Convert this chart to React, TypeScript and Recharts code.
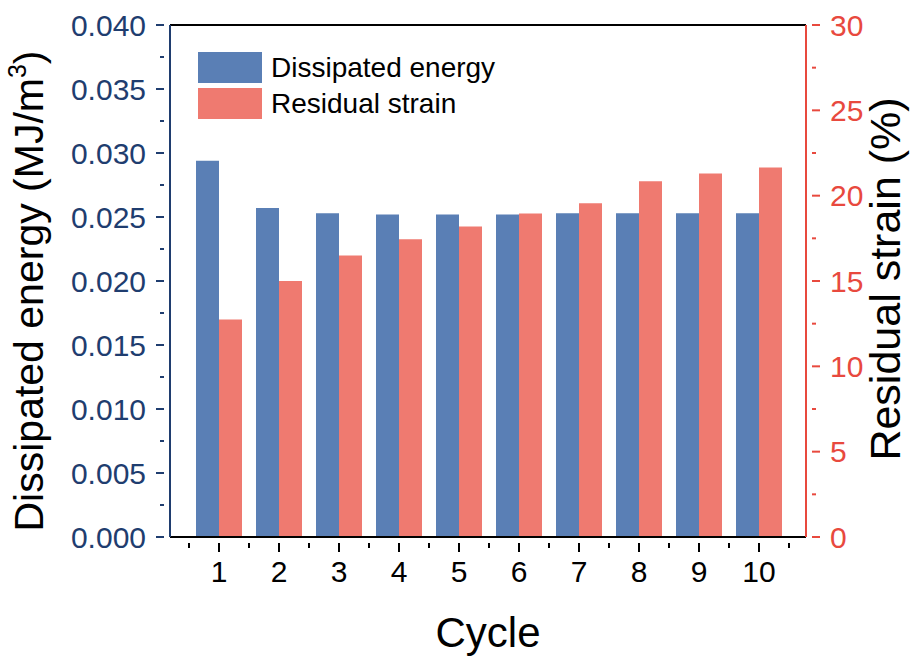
import { BarChart, Bar, XAxis, YAxis, ReferenceLine, Legend, Label } from 'recharts';

const cycles = ['1', '2', '3', '4', '5', '6', '7', '8', '9', '10'];
const dissipatedEnergy = [0.0294, 0.0257, 0.0253, 0.0252, 0.0252, 0.0252, 0.0253, 0.0253, 0.0253, 0.0253];
const residualStrain = [12.75, 15.0, 16.5, 17.45, 18.2, 18.95, 19.55, 20.85, 21.3, 21.65];

const energyTicks = [
  0, 0.0025, 0.005, 0.0075, 0.01, 0.0125, 0.015, 0.0175, 0.02,
  0.0225, 0.025, 0.0275, 0.03, 0.0325, 0.035, 0.0375, 0.04,
];
const strainTicks = [0, 2.5, 5, 7.5, 10, 12.5, 15, 17.5, 20, 22.5, 25, 27.5, 30];

const data = cycles.map((c, i) => ({
  cycle: c,
  energy: dissipatedEnergy[i],
  strain: residualStrain[i],
}));

const FONT = '"Liberation Sans", Arial, sans-serif';
const NAVY = '#1f3d6f';
const RED = '#e8493e';
const BLUE_BAR = '#5a7fb5';
const RED_BAR = '#ef7a70';

const LeftTick = ({ x, y, payload, index }: any) => {
  const major = index % 2 === 0;
  return (
    <g>
      <line x1={x} x2={x - (major ? 8 : 4)} y1={y} y2={y} stroke={NAVY} strokeWidth={2} />
      {major && (
        <text x={x - 18} y={y} dy="0.36em" textAnchor="end" fontSize={30} fill={NAVY} fontFamily={FONT}>
          {Number(payload.value).toFixed(3)}
        </text>
      )}
    </g>
  );
};

const RightTick = ({ x, y, payload, index }: any) => {
  const major = index % 2 === 0;
  return (
    <g>
      <line x1={x} x2={x + (major ? 8 : 4)} y1={y} y2={y} stroke={RED} strokeWidth={2} />
      {major && (
        <text x={x + 18} y={y} dy="0.36em" textAnchor="start" fontSize={30} fill={RED} fontFamily={FONT}>
          {payload.value}
        </text>
      )}
    </g>
  );
};

const BottomTick = ({ x, y, payload, index }: any) => {
  const last = index === cycles.length - 1;
  return (
    <g>
      <line x1={x} x2={x} y1={y} y2={y + 9} stroke="#000" strokeWidth={2} />
      <line x1={x - 30} x2={x - 30} y1={y} y2={y + 5} stroke="#000" strokeWidth={2} />
      {last && <line x1={x + 30} x2={x + 30} y1={y} y2={y + 5} stroke="#000" strokeWidth={2} />}
      <text x={x} y={y + 28} dy="0.36em" textAnchor="middle" fontSize={30} fill="#000" fontFamily={FONT}>
        {payload.value}
      </text>
    </g>
  );
};

const renderLegend = ({ payload }: any) => (
  <div style={{ fontFamily: FONT }}>
    {payload.map((p: any) => (
      <div key={p.value} style={{ display: 'flex', alignItems: 'center', height: 31, marginBottom: 5 }}>
        <span style={{ width: 64, height: 31, background: p.color, display: 'inline-block' }} />
        <span style={{ marginLeft: 9, fontSize: 28, color: '#000', lineHeight: '31px' }}>{p.value}</span>
      </div>
    ))}
  </div>
);

export default function App() {
  return (
    <div style={{ position: 'absolute', left: 0, top: 0, background: '#fff' }}>
      <BarChart
        width={917}
        height={660}
        data={data}
        margin={{ top: 25, right: 0, bottom: 0, left: 0 }}
        barGap={0}
        barCategoryGap={7}
      >
        <XAxis
          dataKey="cycle"
          height={123}
          padding={{ left: 19, right: 17 }}
          axisLine={{ stroke: '#000', strokeWidth: 2 }}
          tickLine={false}
          tickMargin={0}
          interval={0}
          tick={<BottomTick />}
        >
          <Label
            content={({ viewBox }: any) => (
              <text
                x={viewBox.x + viewBox.width / 2}
                y={647}
                textAnchor="middle"
                fontSize={42}
                fill="#000"
                fontFamily={FONT}
              >
                Cycle
              </text>
            )}
          />
        </XAxis>
        <YAxis
          yAxisId="left"
          width={170}
          domain={[0, 0.04]}
          ticks={energyTicks}
          interval={0}
          axisLine={{ stroke: NAVY, strokeWidth: 2 }}
          tickLine={false}
          tickMargin={0}
          tick={<LeftTick />}
        >
          <Label
            content={({ viewBox }: any) => (
              <text
                transform={`translate(43, ${viewBox.y + viewBox.height / 2 + 10}) rotate(-90)`}
                textAnchor="middle"
                fontSize={41}
                fill="#000"
                fontFamily={FONT}
              >
                Dissipated energy (MJ/m
                <tspan fontSize={25} dy={-17}>3</tspan>
                <tspan dy={17}>)</tspan>
              </text>
            )}
          />
        </YAxis>
        <YAxis
          yAxisId="right"
          orientation="right"
          width={111}
          domain={[0, 30]}
          ticks={strainTicks}
          interval={0}
          axisLine={{ stroke: RED, strokeWidth: 2 }}
          tickLine={false}
          tickMargin={0}
          tick={<RightTick />}
        >
          <Label
            content={({ viewBox }: any) => (
              <text
                transform={`translate(900, ${viewBox.y + viewBox.height / 2 - 2}) rotate(-90)`}
                textAnchor="middle"
                fontSize={43}
                fill="#000"
                fontFamily={FONT}
              >
                Residual strain (%)
              </text>
            )}
          />
        </YAxis>
        <ReferenceLine yAxisId="left" y={0.04} stroke="#000" strokeWidth={2} />
        <Legend
          layout="vertical"
          align="center"
          verticalAlign="middle"
          content={renderLegend}
          wrapperStyle={{ top: 52, left: 198, width: 320 }}
        />
        <Bar yAxisId="left" dataKey="energy" name="Dissipated energy" fill={BLUE_BAR} isAnimationActive={false} />
        <Bar yAxisId="right" dataKey="strain" name="Residual strain" fill={RED_BAR} isAnimationActive={false} />
      </BarChart>
    </div>
  );
}
